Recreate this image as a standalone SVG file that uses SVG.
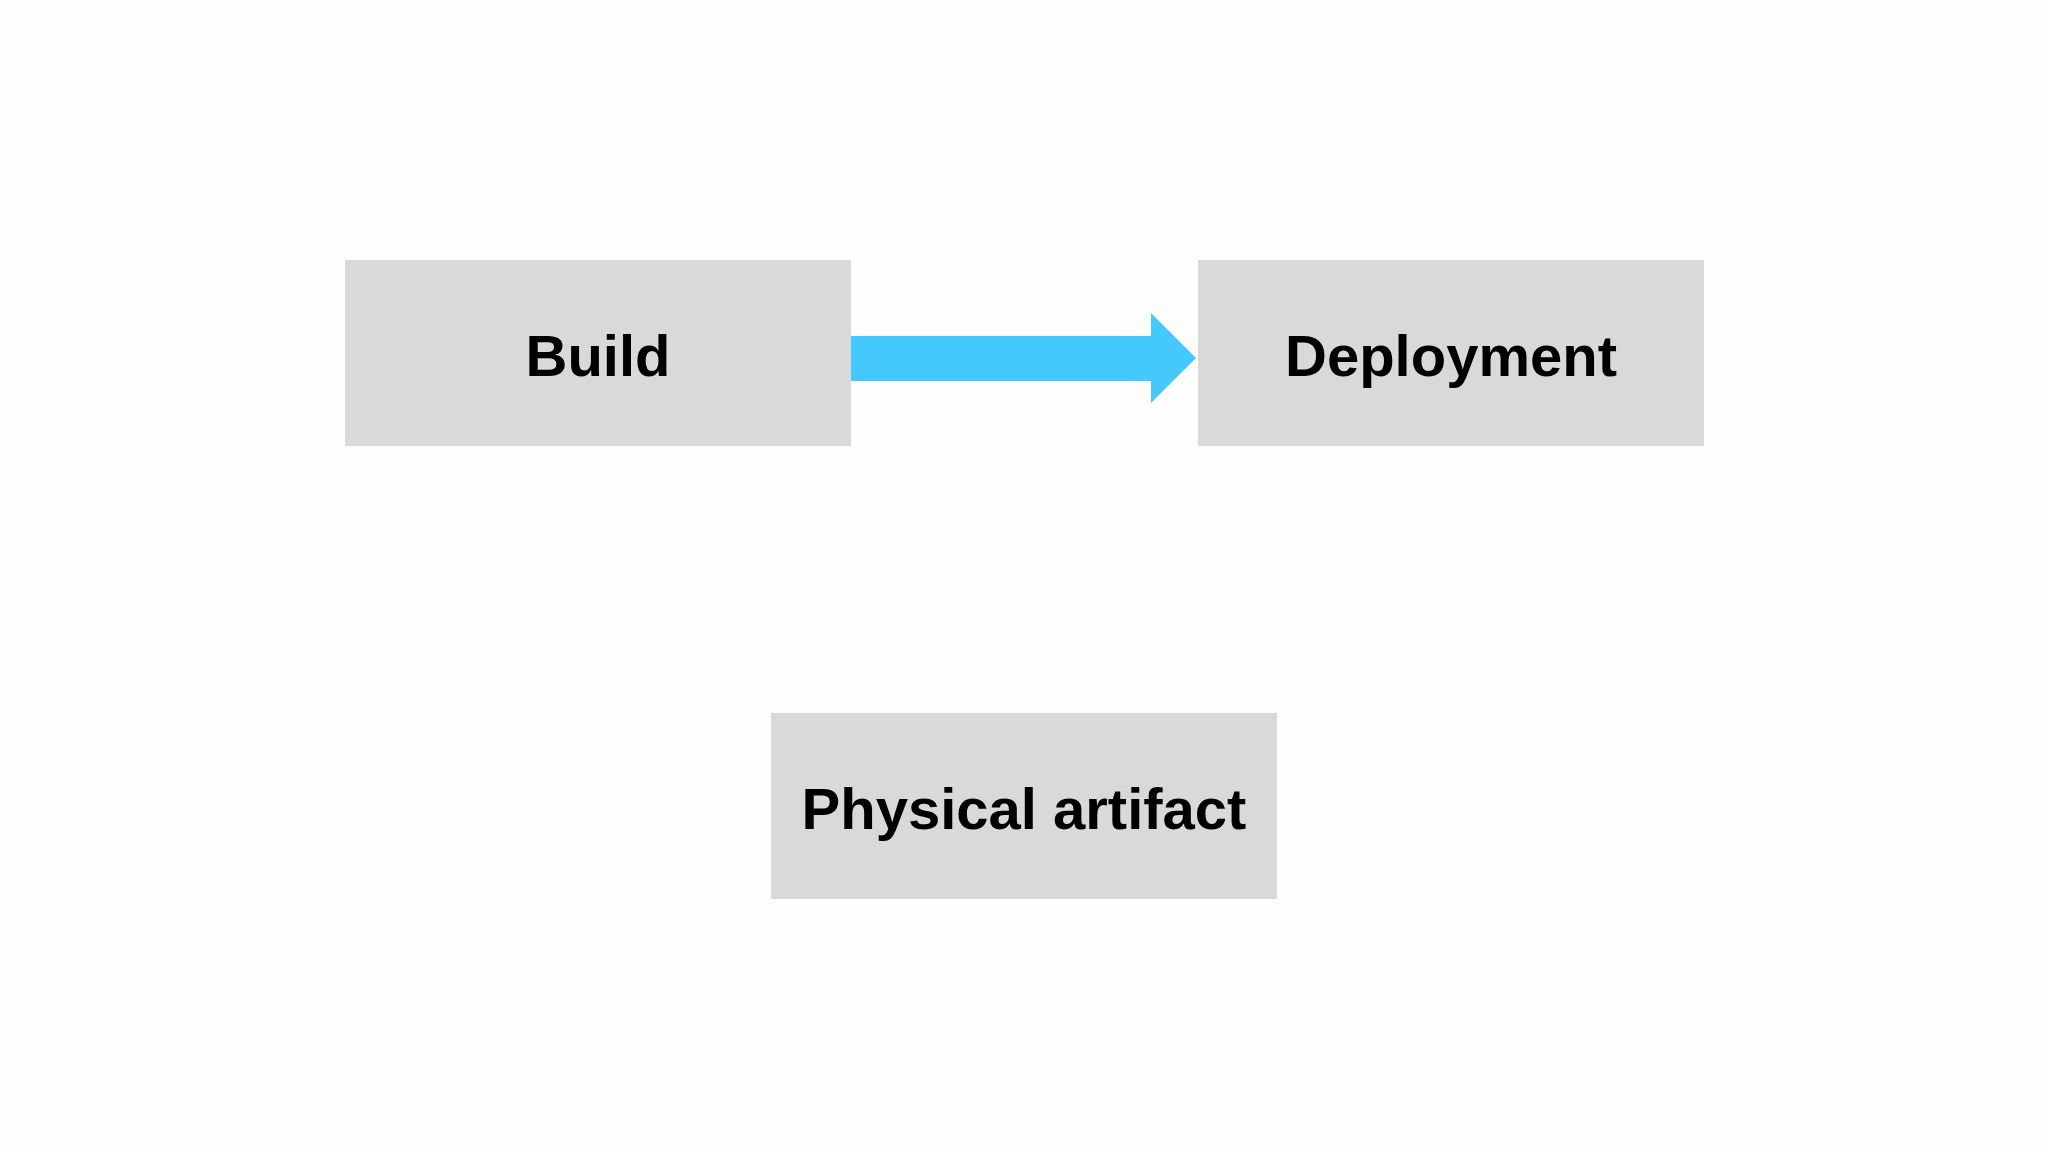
<svg xmlns="http://www.w3.org/2000/svg" width="2048" height="1152" viewBox="0 0 2048 1152">
<style>
.box{fill:#d9d9d9}
.lbl{font-family:"Liberation Sans",Arial,sans-serif;font-weight:bold;font-size:58px;fill:#000;text-anchor:middle;dominant-baseline:central}
</style>
<rect width="2048" height="1152" fill="#fdfdfd"/>
<g id="build"><rect class="box" x="345" y="260" width="506" height="186"/><text class="lbl" x="598" y="355">Build</text></g>
<g id="deployment"><rect class="box" x="1198" y="260" width="506" height="186"/><text class="lbl" x="1451" y="355">Deployment</text></g>
<g id="physical"><rect class="box" x="771" y="713" width="506" height="186"/><text class="lbl" x="1024" y="808">Physical artifact</text></g>
<g id="connectors"><polygon fill="#45c8fc" points="851,336 1151,336 1151,313 1196,358 1151,403 1151,381 851,381"/></g>
</svg>
